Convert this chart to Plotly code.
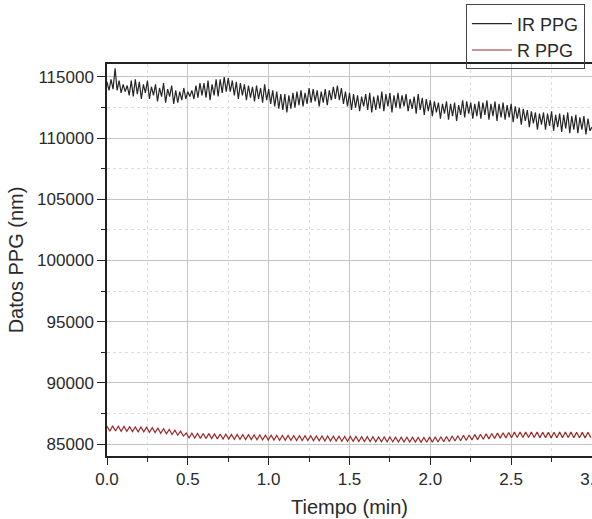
import plotly.graph_objects as go

# Sampling intervals (minutes)
IR_DT = 0.0125
R_DT = 0.0175

ir_ppg = [
    114600, 113900, 114800, 114000, 115700, 113900, 114700, 113700,
    114400, 113800, 114300, 113500, 114700, 113400, 114800, 113600,
    114600, 113200, 114400, 113700, 114700, 113200, 114200, 113500,
    114400, 113000, 114100, 113400, 114500, 112900, 114000, 113400,
    114300, 112800, 113900, 112900, 113800, 113100, 114100, 113200,
    113800, 113400, 113900, 113200, 114300, 113300, 114500, 113500,
    114500, 113300, 114700, 113100, 114400, 113500, 114800, 113400,
    114800, 113700, 115000, 113800, 114900, 113800, 114700, 113500,
    114600, 113200, 114500, 113500, 114400, 113100, 114300, 113300,
    114200, 113000, 114300, 113200, 114100, 112900, 114400, 113100,
    114000, 112800, 113900, 112600, 113800, 112400, 113600, 112300,
    113600, 112100, 113500, 112400, 113700, 112500, 113800, 112700,
    113900, 112600, 113700, 112800, 114100, 112900, 114000, 113000,
    113900, 112600, 113800, 112900, 114000, 112700, 113900, 113100,
    114200, 113200, 114300, 113100, 114100, 112800, 113800, 112600,
    113700, 112300, 113600, 112500, 113500, 112200, 113400, 112600,
    113600, 112300, 113700, 112100, 113400, 112300, 113500, 112400,
    113800, 112200, 113600, 112600, 113700, 112100, 113500, 112500,
    113700, 112400, 113500, 112600, 113600, 112200, 113200, 112400,
    113400, 112000, 113600, 112300, 113300, 111900, 113200, 112200,
    113100, 111800, 113000, 112100, 112900, 111600, 112800, 112000,
    113000, 111500, 112800, 111800, 112900, 111400, 112700, 111900,
    113100, 111700, 113000, 112000, 112900, 111600, 112800, 111800,
    113000, 111600, 112900, 111900, 113100, 111500, 112800, 111800,
    113000, 111400, 112800, 111700, 112900, 111500, 112700, 111700,
    112800, 111300, 112600, 111600, 112500, 111100, 112400, 111400,
    112300, 110900, 112200, 111200, 112100, 110700, 112000, 111100,
    112100, 110700, 112000, 111000, 112200, 110600, 111900, 110900,
    112000, 110500, 111900, 110800, 112100, 110400, 111800, 110700,
    111900, 110400, 111700, 110700, 111800, 110300, 111600, 110600,
    110900,
]

r_ppg = [
    86450, 86050, 86480, 86060, 86450, 86040, 86430, 86030, 86420, 86020,
    86400, 86000, 86390, 85990, 86370, 85960, 86340,
    85930, 86300, 85880, 86250, 85830, 86200, 85780, 86130, 85720, 86050, 85650,
    85900, 85500, 85880, 85480, 85870, 85460, 85860, 85450, 85850, 85440,
    85830, 85420, 85820, 85410, 85800, 85400, 85790, 85390, 85780, 85380,
    85770, 85370, 85760, 85360, 85750, 85350, 85740, 85340, 85730,
    85330, 85720, 85320, 85710, 85310, 85700, 85300, 85700, 85300, 85690,
    85290, 85680, 85280, 85680, 85280, 85670, 85270, 85660, 85260, 85650,
    85250, 85650, 85250, 85640, 85240, 85630, 85230, 85620, 85220, 85620,
    85220, 85610, 85210, 85600, 85200, 85600, 85200, 85590, 85190, 85580,
    85180, 85580, 85180, 85570, 85170, 85560, 85160, 85560, 85160, 85550,
    85150, 85550, 85150, 85540, 85140, 85540, 85140,
    85560, 85150, 85580, 85170, 85600, 85190, 85620, 85210, 85650, 85240,
    85680, 85270, 85710, 85300, 85740, 85330, 85770, 85360, 85800, 85390,
    85830, 85420, 85860, 85450, 85890, 85480, 85920, 85500, 85940,
    85520, 85970, 85530, 85980, 85540, 85990, 85540, 85980, 85530, 85970,
    85520, 85960, 85510, 85950, 85500, 85960, 85510, 85970, 85520, 85980,
    85530, 85970, 85520, 85960, 85510, 85950, 85500, 85960, 85520,
]

ir_time = [i * IR_DT for i in range(len(ir_ppg))]
r_time = [i * R_DT for i in range(len(r_ppg))]

x_ticks = [0.0, 0.5, 1.0, 1.5, 2.0, 2.5, 3.0]
x_tick_labels = ["0.0", "0.5", "1.0", "1.5", "2.0", "2.5", "3.0"]
y_ticks = [85000, 90000, 95000, 100000, 105000, 110000, 115000]
y_tick_labels = ["85000", "90000", "95000", "100000", "105000", "110000", "115000"]

FONT = "Liberation Sans, Arial, sans-serif"
TXT = "#2a2a2a"

fig = go.Figure()
fig.add_trace(go.Scatter(x=ir_time, y=ir_ppg, mode="lines", name="IR PPG",
                         line=dict(color="#262626", width=1.2)))
fig.add_trace(go.Scatter(x=r_time, y=r_ppg, mode="lines", name="R PPG",
                         line=dict(color="#9a2a2a", width=1.2)))

fig.update_layout(
    width=592, height=519,
    margin=dict(l=107, r=0, t=64, b=63, autoexpand=False),
    paper_bgcolor="white", plot_bgcolor="white",
    font=dict(family=FONT, color=TXT, size=17),
    showlegend=True,
    legend=dict(
        x=0.740, y=1.152, xanchor="left", yanchor="top",
        bordercolor="#444444", borderwidth=1, bgcolor="rgba(255,255,255,0)",
        font=dict(size=18, color=TXT, family=FONT),
        tracegroupgap=0, itemwidth=40, entrywidth=130, entrywidthmode="pixels",
    ),
    xaxis=dict(
        range=[0, 3.0], tickmode="array", tickvals=x_ticks, ticktext=x_tick_labels,
        ticklabeloverflow="allow", automargin=False,
        showline=True, linecolor="#222222", linewidth=1.5, mirror=True,
        ticks="outside", ticklen=7, tickwidth=1, tickcolor="#222222",
        showgrid=True, gridcolor="#c4c4c4", gridwidth=1, zeroline=False,
        minor=dict(dtick=0.25, tick0=0, ticks="outside", ticklen=4,
                   tickcolor="#222222", showgrid=True, gridcolor="#dedede",
                   griddash="dot", gridwidth=1),
        tickfont=dict(size=17, color=TXT),
        title=dict(text="Tiempo (min)", font=dict(size=20, color=TXT), standoff=12),
    ),
    yaxis=dict(
        range=[84020, 116060], tickmode="array", tickvals=y_ticks, ticktext=y_tick_labels,
        automargin=False,
        showline=True, linecolor="#222222", linewidth=1.5, mirror=False,
        ticks="outside", ticklen=8, tickwidth=1, tickcolor="#222222",
        showgrid=True, gridcolor="#c4c4c4", gridwidth=1, zeroline=False,
        minor=dict(dtick=2500, tick0=0, ticks="outside", ticklen=4,
                   tickcolor="#222222", showgrid=True, gridcolor="#dedede",
                   griddash="dot", gridwidth=1),
        tickfont=dict(size=17, color=TXT),
        title=dict(text="Datos PPG (nm)", font=dict(size=20, color=TXT), standoff=8),
    ),
)

fig.write_html("out.html", config={"displayModeBar": False},
               post_script="document.body.style.margin='0';")
